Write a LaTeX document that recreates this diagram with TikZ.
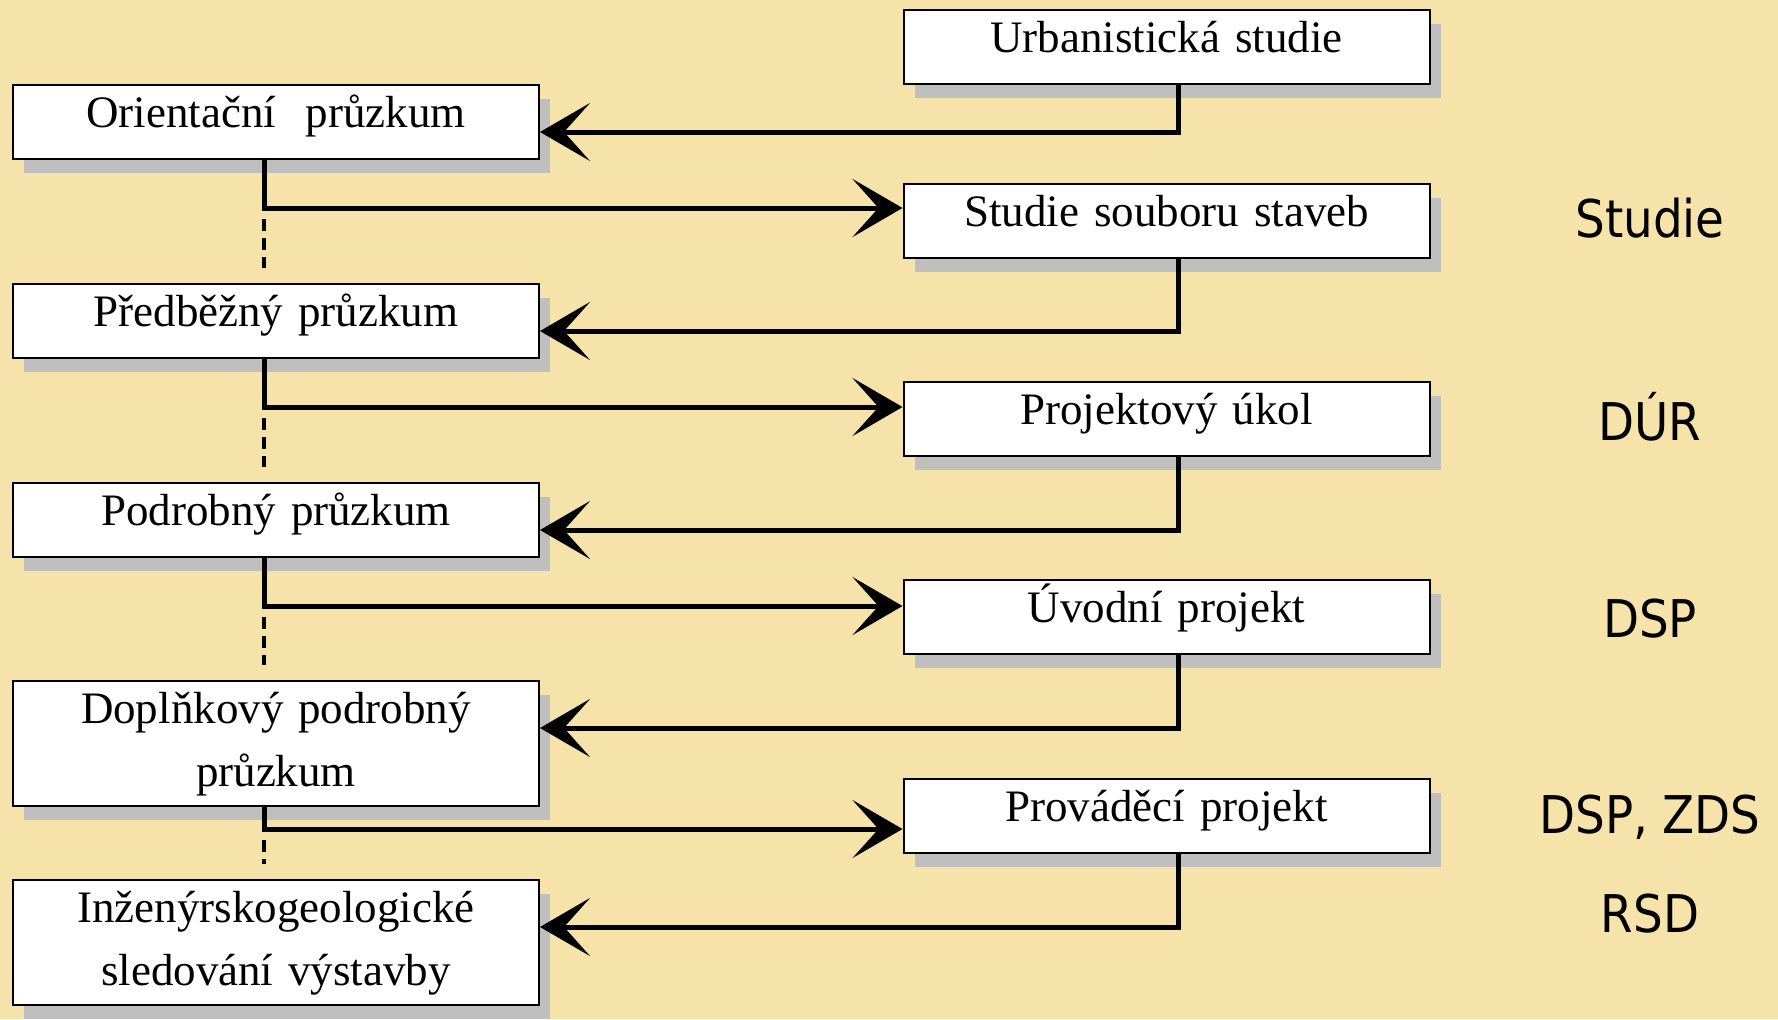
\documentclass[tikz,border=0pt]{standalone}
\usepackage{fontspec}
\setmainfont{Liberation Serif}
\newfontfamily\stagefont{DejaVu Sans Condensed}
\usetikzlibrary{arrows.meta, shadows, positioning}
\definecolor{paper}{RGB}{245,227,169}

\begin{document}
\begin{tikzpicture}[x=0.5pt, y=-0.5pt, line join=miter,
    box/.style={draw, line width=1pt, fill=white, anchor=north, text width=250pt, inner xsep=6.5pt, inner ysep=0pt,
        align=center, text height=21pt, text depth=16pt, font=\fontsize{22.5}{31.5}\selectfont,
        drop shadow={shadow xshift=5.5pt, shadow yshift=-7pt, opacity=1, fill=black!25}},
    twoline/.style={text depth=41.5pt},
    back/.style={line width=2.5pt, -{Stealth[length=25pt, width=29pt, inset=13pt]}},
    fwd/.style={back},
    dashline/.style={line width=2pt, dash pattern=on 6pt off 3.5pt, shorten <=5.5pt, shorten >=7.5pt},
    stage/.style={anchor=base, font=\stagefont\fontsize{26}{30}\selectfont}]

    \fill[paper] (0,0) rectangle (1778,1019);

    % survey stages
    \node[box] (orient) at (276,84) {Orientační\ \ průzkum};
    \node[box] (predb) at (276,283) {Předběžný průzkum};
    \node[box] (podrob) at (276,482) {Podrobný průzkum};
    \node[box, twoline] (doplnk) at (276,680) {Doplňkový podrobný\\průzkum};
    \node[box, twoline] (inzgeo) at (276,879) {Inženýrskogeologické\\sledování výstavby};

    % project stages
    \node[box] (urban) at (1166.5,9) {Urbanistická studie};
    \node[box] (studie) at (1166.5,183) {Studie souboru staveb};
    \node[box] (ukol) at (1166.5,381) {Projektový úkol};
    \node[box] (uvodni) at (1166.5,579) {Úvodní projekt};
    \node[box] (provad) at (1166.5,778) {Prováděcí projekt};

    % back to the survey
    \draw[back] ([xshift=6pt]urban.south) |- ([yshift=-2.5pt]orient.base east);
    \draw[back] ([xshift=6pt]studie.south) |- ([yshift=-2.5pt]predb.base east);
    \draw[back] ([xshift=6pt]ukol.south) |- ([yshift=-2.5pt]podrob.base east);
    \draw[back] ([xshift=6pt]uvodni.south) |- ([yshift=-2.5pt]doplnk.base east);
    \draw[back] ([xshift=6pt]provad.south) |- ([yshift=-2.5pt]inzgeo.base east);

    % on to the project
    \coordinate (j1) at ([xshift=-6pt, yshift=-24pt]orient.south);
    \coordinate (j2) at ([xshift=-6pt, yshift=-24pt]predb.south);
    \coordinate (j3) at ([xshift=-6pt, yshift=-24pt]podrob.south);
    \coordinate (j4) at ([xshift=-6pt, yshift=-11pt]doplnk.south);
    \draw[fwd] ([xshift=-6pt]orient.south) -- (j1) -- (j1 -| studie.west);
    \draw[fwd] ([xshift=-6pt]predb.south) -- (j2) -- (j2 -| ukol.west);
    \draw[fwd] ([xshift=-6pt]podrob.south) -- (j3) -- (j3 -| uvodni.west);
    \draw[fwd] ([xshift=-6pt]doplnk.south) -- (j4) -- (j4 -| provad.west);
    \draw[dashline] (j1) -- (j1 |- predb.north);
    \draw[dashline] (j2) -- (j2 |- podrob.north);
    \draw[dashline] (j3) -- (j3 |- doplnk.north);
    \draw[dashline] (j4) -- (j4 |- inzgeo.north);

    % documentation labels
    \node[stage] (lstudie) at (1650,237) {Studie};
    \node[stage] (ldur) at (1650,440) {DÚR};
    \node[stage] (ldsp) at (1650,637) {DSP};
    \node[stage] (ldspzds) at (1650,833) {DSP, ZDS};
    \node[stage] (lrsd) at (1650,932) {RSD};
\end{tikzpicture}
\end{document}
